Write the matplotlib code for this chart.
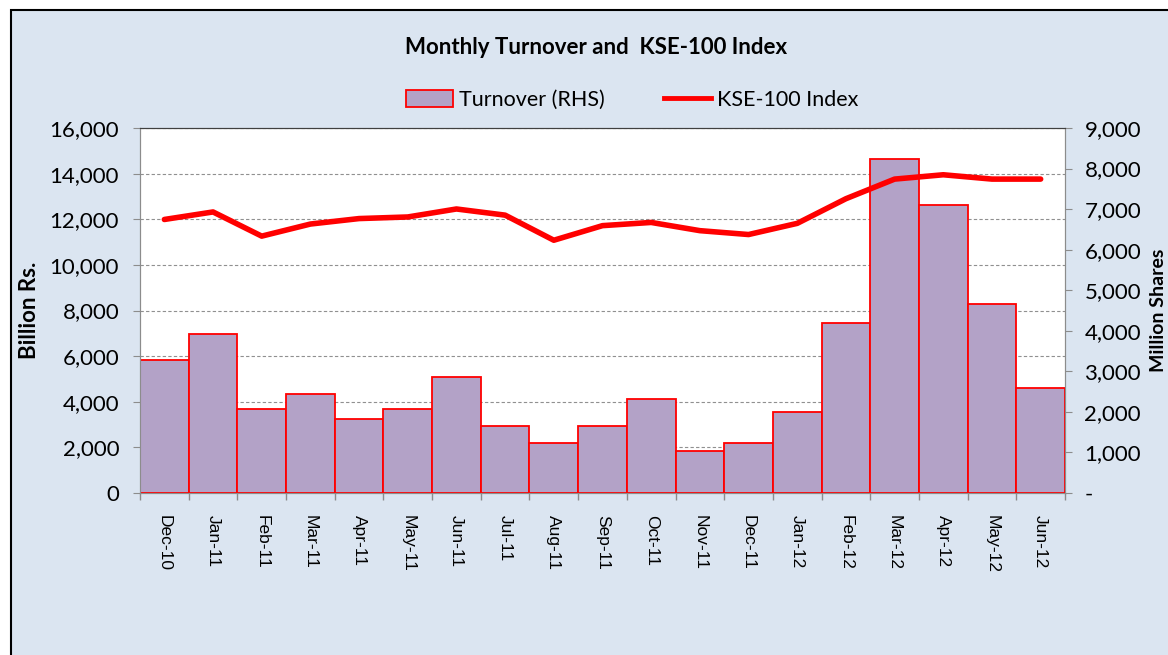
import matplotlib
matplotlib.use('Agg')
import matplotlib.pyplot as plt
from matplotlib.patches import Rectangle, Patch
from matplotlib.lines import Line2D
from matplotlib.ticker import FuncFormatter, FixedLocator

# donnees
mois = ['Dec-10', 'Jan-11', 'Feb-11', 'Mar-11', 'Apr-11', 'May-11', 'Jun-11',
        'Jul-11', 'Aug-11', 'Sep-11', 'Oct-11', 'Nov-11', 'Dec-11', 'Jan-12',
        'Feb-12', 'Mar-12', 'Apr-12', 'May-12', 'Jun-12']
turnover = [3290, 3910, 2080, 2430, 1830, 2080, 2870, 1660, 1230, 1660,
            2310, 1040, 1230, 2000, 4190, 8240, 7090, 4670, 2590]   # million shares (RHS)
kse100 = [11990, 12320, 11260, 11790, 12030, 12100, 12450, 12180, 11080,
          11720, 11860, 11500, 11330, 11820, 12900, 13760, 13950, 13760, 13760]

BLEU = '#dbe5f1'
VIOLET = '#b3a2c7'
ROUGE = '#ff0000'
GRIS = '#8c8c8c'
W, H = 1168, 655

plt.rcParams['font.family'] = ['Lato', 'DejaVu Sans']

fig = plt.figure(figsize=(W / 100, H / 100), dpi=100)
fig.patch.set_facecolor('white')

# cadre du graphique (coupe a droite et en bas)
fig.patches.append(Rectangle((11 / W, -0.05), 1.2, (H - 10) / H + 0.05,
                             transform=fig.transFigure, facecolor=BLEU,
                             edgecolor='black', linewidth=1.5, zorder=-5))

ax = fig.add_axes([140 / W, 1 - 493 / H, (1065 - 140) / W, (493 - 128) / H])
ax.set_facecolor('white')
ax2 = ax.twinx()
ax.set_zorder(1)
ax2.set_zorder(2)
ax2.patch.set_visible(False)

x = list(range(len(mois)))

# axe gauche : indice
ax.set_ylim(0, 16000)
ax.set_yticks(range(0, 16001, 2000))
ax.yaxis.set_major_formatter(FuncFormatter(lambda v, p: '{:,.0f}'.format(v)))
ax.grid(axis='y', color='#909090', linestyle=(0, (3, 2)), linewidth=0.8)
ax.set_axisbelow(True)

# axe droit : turnover
ax2.bar(x, turnover, width=1.0, color=VIOLET, edgecolor=ROUGE, linewidth=1.3, zorder=2)
ax2.set_ylim(0, 9000)
ax2.set_yticks(range(0, 9001, 1000))
ax2.yaxis.set_major_formatter(FuncFormatter(lambda v, p: '-' if v == 0 else '{:,.0f}'.format(v)))

# ligne de l'indice, dessinee au-dessus des barres avec l'echelle de gauche
ax2.plot(x, kse100, color=ROUGE, linewidth=4, solid_joinstyle='round',
         solid_capstyle='round', transform=ax.transData, zorder=3)

ax.set_xlim(-0.5, len(mois) - 0.5)
ax.xaxis.set_major_locator(FixedLocator([i - 0.5 for i in range(len(mois) + 1)]))
ax.xaxis.set_major_formatter(FuncFormatter(lambda v, p: ''))
ax.xaxis.set_minor_locator(FixedLocator(x))
ax.set_xticklabels(mois, minor=True, rotation=270, family='Liberation Sans', fontsize=12.5)
ax.tick_params(axis='x', which='minor', length=0, pad=16)
ax.tick_params(axis='x', which='major', length=5, color=GRIS, width=1)

ax.tick_params(axis='y', length=5, color=GRIS, labelsize=16, pad=10)
ax2.tick_params(axis='y', length=5, color=GRIS, labelsize=16, pad=9)

for a in (ax, ax2):
    a.spines['left'].set_color(GRIS)
    a.spines['right'].set_color(GRIS)
    a.spines['bottom'].set_color(GRIS)
    a.spines['top'].set_color('#404040')

# titres
fig.text(596 / W, 1 - 47 / H, 'Monthly Turnover and  KSE-100 Index', ha='center',
         va='center', fontsize=16, fontweight='bold')
fig.text(30 / W, 1 - 310 / H, 'Billion Rs.', rotation=90, ha='center', va='center',
         fontsize=16, fontweight='bold')
fig.text(1167 / W, 1 - 310 / H, 'Million Shares', rotation=90, ha='right', va='center',
         fontsize=14, fontweight='bold')

# legende
poignees = [Patch(facecolor=VIOLET, edgecolor=ROUGE, linewidth=1.3),
            Line2D([0], [0], color=ROUGE, linewidth=3.5)]
fig.legend(poignees, ['Turnover (RHS)', 'KSE-100 Index'], loc='center',
           bbox_to_anchor=(632 / W, 1 - 100 / H), ncol=2, frameon=False,
           fontsize=15.5, handlelength=2.2, handleheight=0.8, columnspacing=2.75,
           handletextpad=0.25)

fig.savefig('out.png', dpi=100, facecolor=fig.get_facecolor())
